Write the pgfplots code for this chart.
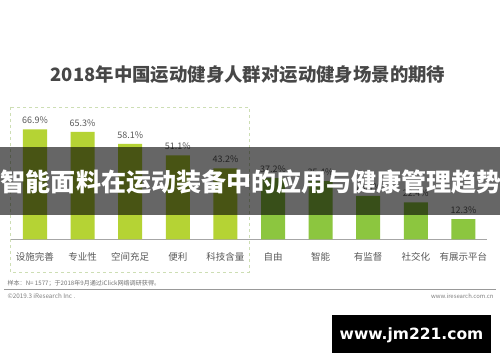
\documentclass[border=0pt]{standalone}
\usepackage{fontspec}
\setmainfont{Noto Sans CJK SC}
\newfontfamily\wmfont{DejaVu Sans}
\usepackage{pgfplots}
\pgfplotsset{compat=1.18}
\definecolor{lime}{RGB}{181,211,52}
\definecolor{grn}{RGB}{140,198,63}
\definecolor{boxc}{RGB}{205,222,180}
\begin{document}
\begin{tikzpicture}[x=1pt,y=1pt]
\path[use as bounding box, fill=white] (0,0) rectangle (500,362);
\node[font=\bfseries\fontsize{18.4}{18}\selectfont, text=black!72] at (248,287) {2018年中国运动健身人群对运动健身场景的期待};
\draw[dashed, boxc, line width=0.6pt] (10,255) rectangle (249,90);
\begin{axis}[
  at={(11.2pt,122.7pt)}, anchor=south west,
  width=476pt, height=131.5pt, scale only axis,
  xmin=-0.5, xmax=9.5, ymin=0, ymax=80,
  ybar, bar width=24pt, bar shift=0pt,
  axis x line*=bottom, axis y line=none,
  x axis line style={black!35, line width=0.8pt, -},
  xtick={0,...,9}, xtick style={draw=none},
  xticklabels={设施完善,专业性,空间充足,便利,科技含量,自由,智能,有监督,社交化,有展示平台},
  xticklabel style={font=\fontsize{9.5}{10}\selectfont, text=black!65, yshift=-5pt},
  clip=false,
  /pgf/number format/assume math mode=true,
  nodes near coords={\pgfmathprintnumber[fixed,fixed zerofill,precision=1]{\pgfplotspointmeta}\%},
  every node near coord/.append style={font=\fontsize{9}{9}\selectfont, text=black!65, yshift=2pt},
]
\addplot[fill=lime, draw=none] coordinates {(0,66.9) (1,65.3) (2,58.1) (3,51.1) (4,43.2)};
\addplot[fill=grn, draw=none] coordinates {(5,37.2) (6,35.4) (7,26.4) (8,22.4) (9,12.3)};
\end{axis}
\node[anchor=west, font=\fontsize{6.1}{6.5}\selectfont, text=black!55] at (4,79) {样本：N= 1577；于2018年9月通过iClick网络调研获得。};
\draw[black!40, line width=0.8pt] (4,73) -- (496,73);
\node[anchor=west, font=\fontsize{6.3}{6.5}\selectfont, text=black!50] at (4,66) {©2019.3 iResearch Inc .};
\node[anchor=east, font=\fontsize{5.9}{6.5}\selectfont, text=black!50] at (497,66) {www.iresearch.com.cn};
\fill[black, opacity=0.6] (0,215) rectangle (500,147);
\node[font=\bfseries\fontsize{25}{25}\selectfont, text=white] at (251,180) {智能面料在运动装备中的应用与健康管理趋势};
\fill[black] (332,47) rectangle (491,9);
\node[font=\wmfont\bfseries\fontsize{15.5}{16}\selectfont, text=white] at (411.5,27) {www.jm221.com};
\end{tikzpicture}
\end{document}
